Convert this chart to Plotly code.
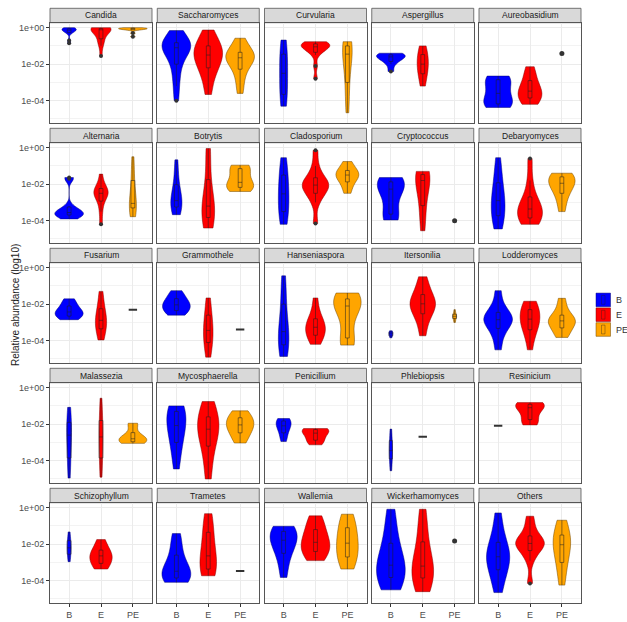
import plotly.graph_objects as go

# ---------------- data (log10 relative abundance) ----------------
groups = ["B", "E", "PE"]
group_fill = {"B": "#0000FF", "E": "#FF0000", "PE": "#FFA500"}
group_edge = {"B": "rgba(0,0,110,0.8)", "E": "rgba(120,0,0,0.8)", "PE": "rgba(110,70,0,0.85)"}
y_tick_vals = [0, -2, -4]
y_tick_labels = ["1e+00", "1e-02", "1e-04"]

genera = ["Candida", "Saccharomyces", "Curvularia", "Aspergillus", "Aureobasidium",
          "Alternaria", "Botrytis", "Cladosporium", "Cryptococcus", "Debaryomyces",
          "Fusarium", "Grammothele", "Hanseniaspora", "Itersonilia", "Lodderomyces",
          "Malassezia", "Mycosphaerella", "Penicillium", "Phlebiopsis", "Resinicium",
          "Schizophyllum", "Trametes", "Wallemia", "Wickerhamomyces", "Others"]

candida = {"B": [0, -0.02, -0.05, -0.08, -0.1, -0.12, -0.15, -0.2, -0.25, -0.3, -0.7, -0.86],
           "E": [0, -0.01, -0.03, -0.05, -0.06, -0.08, -0.1, -0.12, -0.15, -0.2, -0.5, -0.65, -0.8, -1.0, -1.55],
           "PE": [0, -0.02, -0.03, -0.05, -0.06, -0.08, -0.1, -0.12, -0.3, -0.5]}
saccharomyces = {"B": [-0.16, -0.5, -0.7, -0.8, -0.9, -1.0, -1.05, -1.1, -1.2, -1.4, -1.7, -2.1, -2.6, -3.2, -4.0],
                 "E": [-0.13, -0.5, -0.8, -1.0, -1.2, -1.3, -1.4, -1.6, -1.8, -2.0, -2.2, -2.5, -3.0, -3.66],
                 "PE": [-0.58, -0.9, -1.2, -1.4, -1.5, -1.6, -1.65, -1.75, -1.9, -2.2, -2.5, -3.0, -3.6]}
curvularia = {"B": [-0.68, -1.2, -1.7, -2.2, -2.8, -3.4, -3.9, -4.3],
              "E": [-0.77, -0.8, -0.85, -0.9, -0.95, -1.0, -1.05, -1.1, -1.2, -1.3, -1.5, -2.1, -2.8],
              "PE": [-0.77, -0.85, -1.0, -1.13, -1.3, -1.6, -2.2, -3.0, -3.8, -4.66]}
aspergillus = {"B": [-1.4, -1.45, -1.5, -1.55, -1.6, -1.7, -1.8, -2.0, -2.4],
               "E": [-1.0, -1.4, -1.7, -2.0, -2.3, -2.6, -3.2]}
aureobasidium = {"B": [-2.65, -2.7, -2.8, -3.0, -3.3, -3.6, -3.9, -4.1, -4.2, -4.3, -4.37],
                 "E": [-2.14, -2.5, -2.9, -3.2, -3.4, -3.55, -3.7, -3.85, -4.0, -4.2],
                 "PE": [-1.41]}
alternaria = {"B": [-1.64, -1.7, -3.2, -3.4, -3.5, -3.55, -3.6, -3.65, -3.7, -3.8, -3.9],
              "E": [-1.45, -2.0, -2.2, -2.35, -2.45, -2.5, -2.55, -2.7, -3.0, -3.5, -4.2],
              "PE": [-0.5, -1.2, -1.8, -2.5, -3.0, -3.1, -3.2, -3.3, -3.5, -3.78]}
botrytis = {"B": [-0.67, -1.5, -2.2, -2.6, -2.9, -3.0, -3.2, -3.4, -3.67],
            "E": [-0.05, -0.1, -1.5, -2.5, -3.0, -3.2, -3.4, -3.6, -3.9, -4.1, -4.4],
            "PE": [-0.96, -1.0, -1.1, -1.3, -1.6, -1.9, -2.0, -2.1, -2.2, -2.3, -2.4]}
cladosporium = {"B": [-0.55, -1.0, -1.5, -2.0, -2.36, -2.7, -3.1, -3.5, -3.9, -4.2],
                "E": [-0.15, -1.0, -1.5, -1.8, -1.9, -2.0, -2.1, -2.2, -2.4, -2.6, -3.0, -4.15],
                "PE": [-0.76, -1.1, -1.3, -1.45, -1.5, -1.6, -1.8, -2.1, -2.5]}
cryptococcus = {"B": [-1.64, -1.7, -1.8, -1.9, -2.0, -2.1, -2.27, -2.5, -2.9, -3.6, -3.75, -3.9, -3.96],
                "E": [-1.3, -1.4, -1.5, -1.64, -1.8, -2.3, -3.0, -3.7, -4.55],
                "PE": [-4.0]}
debaryomyces = {"B": [-0.55, -1.2, -1.8, -2.3, -2.7, -2.9, -3.2, -3.5, -3.8, -4.1, -4.45],
                "E": [-0.6, -1.8, -2.6, -3.0, -3.2, -3.36, -3.5, -3.7, -3.9, -4.1, -4.2],
                "PE": [-1.4, -1.5, -1.6, -1.75, -1.9, -2.0, -2.2, -2.5, -2.9, -3.5]}
fusarium = {"B": [-1.71, -1.9, -2.1, -2.3, -2.4, -2.45, -2.55, -2.65, -2.75, -2.85],
            "E": [-1.3, -2.0, -2.5, -2.8, -2.97, -3.2, -3.5, -3.96],
            "PE": [-2.3]}
grammothele = {"B": [-1.26, -1.5, -1.7, -1.9, -2.0, -2.07, -2.2, -2.35, -2.5, -2.6],
               "E": [-1.66, -2.3, -2.9, -3.3, -3.57, -3.9, -4.3, -4.9],
               "PE": [-3.39]}
hanseniaspora = {"B": [-0.45, -1.0, -1.8, -2.6, -3.2, -3.5, -3.8, -4.0, -4.3, -4.6, -4.86],
                 "E": [-1.66, -2.4, -2.8, -3.0, -3.2, -3.33, -3.5, -3.7, -3.9, -4.2],
                 "PE": [-1.39, -1.5, -1.6, -1.75, -1.9, -1.98, -2.1, -2.3, -2.6, -3.8, -4.0, -4.2, -4.24]}
itersonilia = {"B": [-3.46, -3.55, -3.62, -3.7, -3.84],
               "E": [-0.5, -1.0, -1.4, -1.7, -1.9, -1.98, -2.1, -2.3, -2.6, -3.0, -3.73],
               "PE": [-2.3, -2.55, -2.62, -2.7, -2.78, -3.0]}
lodderomyces = {"B": [-1.26, -2.0, -2.4, -2.6, -2.75, -2.85, -2.95, -3.1, -3.4, -3.8, -4.5],
                "E": [-1.84, -2.0, -2.3, -2.5, -2.74, -2.9, -3.1, -3.4, -3.7, -4.5],
                "PE": [-1.68, -2.2, -2.6, -2.8, -2.88, -2.95, -3.1, -3.3, -3.6, -3.82]}
malassezia = {"B": [-1.08, -1.6, -2.0, -2.27, -2.6, -3.1, -3.7, -4.3, -4.95],
              "E": [-0.58, -1.5, -2.1, -2.5, -2.9, -3.5, -4.2, -4.9],
              "PE": [-1.95, -2.05, -2.6, -2.7, -2.8, -2.87, -2.95, -3.0, -3.05]}
mycosphaerella = {"B": [-1.0, -1.1, -1.3, -1.6, -1.95, -2.2, -2.6, -3.0, -3.6, -4.45],
                  "E": [-0.76, -1.2, -1.6, -1.9, -2.15, -2.4, -2.8, -3.2, -4.0, -5.0],
                  "PE": [-1.27, -1.5, -1.7, -1.9, -2.04, -2.2, -2.4, -2.7, -3.03]}
penicillium = {"B": [-1.69, -1.75, -1.85, -1.95, -2.09, -2.2, -2.4, -2.7, -2.95],
               "E": [-2.24, -2.27, -2.32, -2.4, -2.58, -2.8, -2.95, -3.13]}
phlebiopsis = {"B": [-2.27, -2.9, -3.3, -3.6, -3.9, -4.55],
               "E": [-2.69]}
resinicium = {"B": [-2.09],
              "E": [-0.82, -0.85, -0.9, -0.95, -1.0, -1.1, -1.3, -1.6, -1.8, -2.0, -2.04]}
schizophyllum = {"B": [-1.33, -1.78, -1.9, -2.2, -2.4, -2.6, -2.96],
                 "E": [-1.75, -2.1, -2.4, -2.55, -2.64, -2.8, -3.0, -3.2, -3.36]}
trametes = {"B": [-1.42, -2.0, -2.6, -3.1, -3.4, -3.56, -3.7, -3.85, -3.95, -4.09],
            "E": [-0.33, -0.9, -1.5, -2.1, -2.64, -3.0, -3.3, -3.55, -3.73],
            "PE": [-3.47]}
wallemia = {"B": [-1.02, -1.1, -1.3, -1.5, -1.7, -1.87, -2.1, -2.5, -3.0, -3.82],
            "E": [-0.45, -0.8, -1.2, -1.5, -1.8, -2.0, -2.2, -2.4, -2.6, -2.9],
            "PE": [-0.36, -0.7, -1.1, -1.5, -1.8, -2.09, -2.4, -2.7, -3.0, -3.36]}
wickerhamomyces = {"B": [-0.09, -1.0, -1.8, -2.4, -2.8, -3.15, -3.4, -3.6, -3.9, -4.2, -4.5],
                   "E": [-0.09, -0.9, -1.7, -2.4, -2.9, -3.2, -3.45, -3.7, -3.9, -4.2, -4.6],
                   "PE": [-1.82]}
others = {"B": [-0.29, -1.2, -1.8, -2.2, -2.5, -2.69, -2.85, -3.1, -3.5, -4.0, -4.65],
          "E": [-0.47, -1.0, -1.5, -1.7, -1.85, -1.96, -2.05, -2.2, -2.4, -2.9, -4.15],
          "PE": [-0.69, -1.1, -1.5, -1.8, -1.96, -2.1, -2.5, -3.0, -3.5, -4.24]}

panel_data = [candida, saccharomyces, curvularia, aspergillus, aureobasidium,
              alternaria, botrytis, cladosporium, cryptococcus, debaryomyces,
              fusarium, grammothele, hanseniaspora, itersonilia, lodderomyces,
              malassezia, mycosphaerella, penicillium, phlebiopsis, resinicium,
              schizophyllum, trametes, wallemia, wickerhamomyces, others]

# ---------------- styles ----------------
violin_width = {
    ("Candida", "B"): 0.45, ("Candida", "E"): 0.63, ("Candida", "PE"): 0.9,
    ("Curvularia", "B"): 0.25, ("Curvularia", "E"): 0.9, ("Curvularia", "PE"): 0.3,
    ("Aspergillus", "E"): 0.35, ("Aureobasidium", "E"): 0.75,
    ("Alternaria", "E"): 0.45, ("Alternaria", "PE"): 0.22,
    ("Botrytis", "B"): 0.35, ("Botrytis", "E"): 0.4, ("Botrytis", "PE"): 0.85,
    ("Cladosporium", "B"): 0.33, ("Cladosporium", "E"): 0.83, ("Cladosporium", "PE"): 0.72,
    ("Cryptococcus", "B"): 0.85, ("Cryptococcus", "E"): 0.45,
    ("Debaryomyces", "B"): 0.43, ("Debaryomyces", "E"): 0.78, ("Debaryomyces", "PE"): 0.83,
    ("Fusarium", "B"): 0.88, ("Fusarium", "E"): 0.35,
    ("Grammothele", "B"): 0.87, ("Grammothele", "E"): 0.3,
    ("Hanseniaspora", "B"): 0.33, ("Hanseniaspora", "E"): 0.62, ("Hanseniaspora", "PE"): 0.86,
    ("Itersonilia", "B"): 0.12, ("Itersonilia", "E"): 0.8, ("Itersonilia", "PE"): 0.12,
    ("Lodderomyces", "E"): 0.62, ("Lodderomyces", "PE"): 0.85,
    ("Malassezia", "B"): 0.15, ("Malassezia", "E"): 0.12, ("Malassezia", "PE"): 0.87,
    ("Mycosphaerella", "B"): 0.6, ("Mycosphaerella", "E"): 0.67, ("Mycosphaerella", "PE"): 0.86,
    ("Penicillium", "B"): 0.47, ("Penicillium", "E"): 0.84,
    ("Phlebiopsis", "B"): 0.1,
    ("Schizophyllum", "B"): 0.12, ("Schizophyllum", "E"): 0.7,
    ("Trametes", "E"): 0.52,
    ("Wallemia", "B"): 0.85, ("Wallemia", "PE"): 0.68,
    ("Wickerhamomyces", "E"): 0.68,
    ("Others", "B"): 0.73, ("Others", "PE"): 0.55,
}
single_symbol = {("Aureobasidium", "PE"): "circle", ("Cryptococcus", "PE"): "circle",
                 ("Wickerhamomyces", "PE"): "circle"}
FONT = "Liberation Sans, Arial, sans-serif"

W, H = 627, 622
L, R, T, B = 50, 46, 8, 19
PW, PH = W - L - R, H - T - B


def px_x(p):  # window pixel -> paper x
    return (p - L) / PW


def px_y(p):  # window pixel -> paper y
    return (H - B - p) / PH


fig = go.Figure()
shapes, annotations = [], []
layout_axes = {}

for i, (name, data) in enumerate(zip(genera, panel_data)):
    r, c = divmod(i, 5)
    sfx = "" if i == 0 else str(i + 1)
    left = 50 + 107.25 * c
    right = left + 102
    strip_top = 8.3 + 120 * r
    panel_top = strip_top + 14.4
    panel_bot = strip_top + 114.7

    for g in groups:
        vals = data.get(g, [])
        if not vals:
            continue
        xpos = groups.index(g) + 1
        if len(vals) == 1:
            sym = single_symbol.get((name, g), "line-ew")
            fig.add_trace(go.Scatter(
                x=[xpos], y=vals, mode="markers",
                marker=dict(symbol=sym, size=5 if sym == "circle" else 6, color="#333333",
                            line=dict(width=2 if sym != "circle" else 0, color="#333333")),
                xaxis="x" + sfx, yaxis="y" + sfx, showlegend=False, hoverinfo="skip"))
        else:
            w = violin_width.get((name, g), 0.9)
            fig.add_trace(go.Violin(
                x=[xpos] * len(vals), y=vals, width=w,
                spanmode="hard", scalemode="width",
                fillcolor=group_fill[g], line=dict(color=group_edge[g], width=0.6),
                box=dict(visible=True, width=min(1.0, 0.12 / w), fillcolor="rgba(0,0,0,0)",
                         line=dict(color="rgba(30,30,30,0.75)", width=0.7)),
                meanline=dict(visible=False),
                points="outliers", pointpos=0, jitter=0,
                marker=dict(color="#333333", size=4, line=dict(width=0)),
                opacity=1, showlegend=False, hoverinfo="skip",
                xaxis="x" + sfx, yaxis="y" + sfx))

    layout_axes["xaxis" + sfx] = dict(
        domain=[px_x(left), px_x(right)], range=[0.4, 3.6], anchor="y" + sfx,
        tickvals=[1, 2, 3], ticktext=groups, showticklabels=(r == 4),
        ticks="outside" if r == 4 else "", ticklen=3, tickcolor="#333333",
        tickfont=dict(size=9, color="#4D4D4D", family=FONT), automargin=False,
        showgrid=True, gridcolor="#EBEBEB", gridwidth=0.8, zeroline=False,
        showline=True, mirror=True, linecolor="#555555", linewidth=0.8, fixedrange=True)
    layout_axes["yaxis" + sfx] = dict(
        domain=[px_y(panel_bot), px_y(panel_top)], range=[-5.22, 0.27], anchor="x" + sfx,
        tickvals=y_tick_vals, ticktext=y_tick_labels, showticklabels=(c == 0),
        ticks="outside" if c == 0 else "", ticklen=3, tickcolor="#333333",
        tickfont=dict(size=9, color="#4D4D4D", family=FONT), automargin=False,
        showgrid=True, gridcolor="#EBEBEB", gridwidth=0.8, zeroline=False,
        minor=dict(tickvals=[-5, -3, -1], showgrid=True, gridcolor="#F3F3F3", gridwidth=0.5, ticks=""),
        showline=True, mirror=True, linecolor="#555555", linewidth=0.8, fixedrange=True)

    shapes.append(dict(type="rect", xref="paper", yref="paper",
                       x0=px_x(left), x1=px_x(right), y0=px_y(panel_top), y1=px_y(strip_top),
                       fillcolor="#D9D9D9", line=dict(color="#555555", width=0.8), layer="below"))
    annotations.append(dict(text=name, xref="paper", yref="paper",
                            x=px_x((left + right) / 2), y=px_y((strip_top + panel_top) / 2),
                            xanchor="center", yanchor="middle", showarrow=False,
                            font=dict(size=8.5, color="#1A1A1A", family=FONT)))

annotations.append(dict(text="Relative abundance (log10)", xref="paper", yref="paper",
                        x=px_x(15), y=px_y(305), textangle=-90, showarrow=False,
                        xanchor="center", yanchor="middle",
                        font=dict(size=10, color="#1A1A1A", family=FONT)))

# legend (keys drawn beside the panels, one per group)
key_left, key_top, key_size = 596, 292.5, 14.8
for k, g in enumerate(groups):
    y0 = key_top + k * key_size
    shapes.append(dict(type="rect", xref="paper", yref="paper",
                       x0=px_x(key_left), x1=px_x(key_left + 14.5),
                       y0=px_y(y0 + key_size - 0.6), y1=px_y(y0 + 0.6),
                       fillcolor=group_fill[g], line=dict(color=group_edge[g], width=0.6)))
    shapes.append(dict(type="rect", xref="paper", yref="paper",
                       x0=px_x(key_left + 5.5), x1=px_x(key_left + 9),
                       y0=px_y(y0 + key_size - 3), y1=px_y(y0 + 3),
                       fillcolor="rgba(0,0,0,0)", line=dict(color="rgba(30,30,30,0.6)", width=0.6)))
    annotations.append(dict(text=g, xref="paper", yref="paper",
                            x=px_x(key_left + 18), y=px_y(y0 + key_size / 2),
                            xanchor="left", yanchor="middle", showarrow=False,
                            font=dict(size=9, color="#333333", family=FONT)))

fig.update_layout(
    width=W, height=H, margin=dict(l=L, r=R, t=T, b=B, autoexpand=False),
    paper_bgcolor="white", plot_bgcolor="white",
    violinmode="overlay", showlegend=False,
    shapes=shapes, annotations=annotations, **layout_axes)

fig.write_html("out.html", config={"displayModeBar": False},
               post_script="document.body.style.margin='0';document.body.style.overflow='hidden';")
